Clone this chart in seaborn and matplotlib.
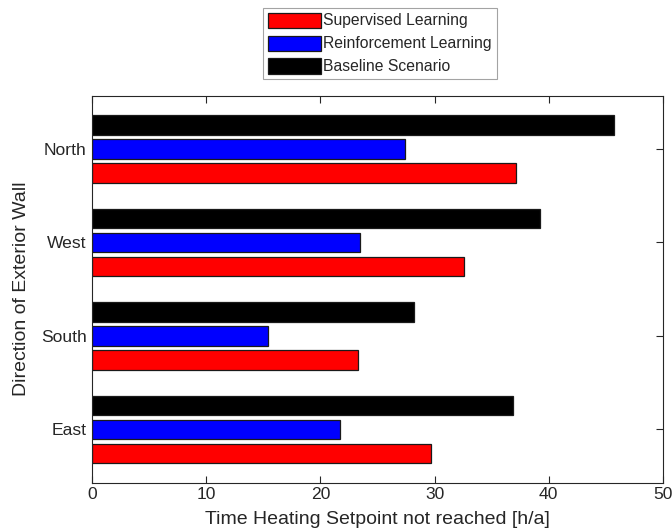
import matplotlib
matplotlib.use("Agg")
import matplotlib.pyplot as plt
from matplotlib.patches import Patch
import pandas as pd
import seaborn as sns

# Hours per year during which the heating setpoint was not reached
directions = ["North", "West", "South", "East"]
scenarios = ["Supervised Learning", "Reinforcement Learning", "Baseline Scenario"]
supervised = [37.1, 32.6, 23.3, 29.7]
reinforcement = [27.4, 23.5, 15.4, 21.7]
baseline = [45.7, 39.2, 28.2, 36.9]
colors = ["#FF0000", "#0000FF", "#000000"]
x_ticks = [0, 10, 20, 30, 40, 50]

rows = []
for name, vals in zip(scenarios, [supervised, reinforcement, baseline]):
    for d, v in zip(directions, vals):
        rows.append({"direction": d, "scenario": name, "hours": v})
df = pd.DataFrame(rows)

sns.set_style("white")
plt.rcParams["font.family"] = ["Liberation Sans", "DejaVu Sans"]
ink = "#262626"

fig = plt.figure(figsize=(6.72, 5.28), dpi=100)
ax = fig.add_axes([0.1369, 0.086, 0.8497, 0.7327])

# top bar in each group is the baseline, bottom bar is supervised learning
sns.barplot(
    data=df, x="hours", y="direction", hue="scenario",
    order=directions, hue_order=scenarios[::-1],
    palette=dict(zip(scenarios, colors)),
    orient="h", width=0.77, gap=0.19, errorbar=None,
    edgecolor="#1a1a1a", linewidth=0.9, saturation=1, legend=False, ax=ax,
)

ax.set_xlim(0, 50)
ax.set_ylim(3.57, -0.57)
ax.set_xticks(x_ticks)
ax.set_xlabel("Time Heating Setpoint not reached [h/a]", fontsize=14, color=ink, labelpad=7)
ax.set_ylabel("Direction of Exterior Wall", fontsize=14, color=ink, labelpad=8)
ax.tick_params(axis="both", which="both", direction="in", length=5, width=0.8,
               color=ink, labelcolor=ink, labelsize=12.6,
               top=True, right=True, bottom=True, left=True)
ax.tick_params(axis="x", pad=3)
ax.tick_params(axis="y", pad=4)
for s in ax.spines.values():
    s.set_visible(True)
    s.set_color(ink)
    s.set_linewidth(0.8)

handles = [Patch(facecolor=c, edgecolor="#1a1a1a", linewidth=0.9) for c in colors]
leg = fig.legend(handles, scenarios, loc="upper center",
                 bbox_to_anchor=(0.565, 0.985), bbox_transform=fig.transFigure,
                 fontsize=11.3, frameon=True, fancybox=False,
                 handlelength=3.4, handleheight=1.1, handletextpad=0.15,
                 labelspacing=0.45, borderpad=0.3, borderaxespad=0)
leg.get_frame().set_edgecolor("#8c8c8c")
leg.get_frame().set_linewidth(0.8)
for t in leg.get_texts():
    t.set_color(ink)

fig.savefig("out.png", dpi=100)
